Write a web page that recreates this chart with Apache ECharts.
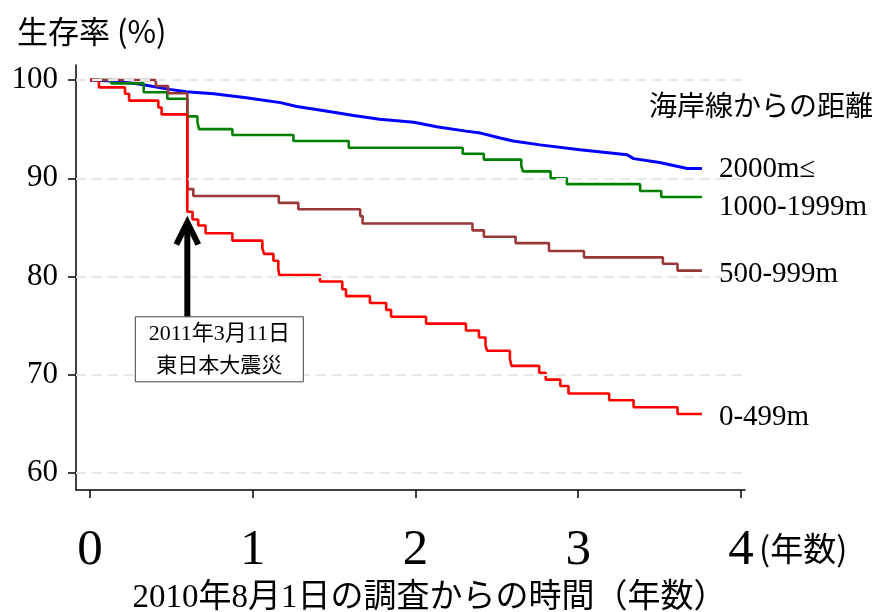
<!DOCTYPE html>
<html><head><meta charset="utf-8">
<script src="https://cdn.jsdelivr.net/npm/echarts@6/dist/echarts.min.js"></script>
<style>html,body{margin:0;padding:0;background:#fff}#c{width:880px;height:612px}</style>
</head><body><div id="c"></div>
<script>
// ---- data ----
const xTicks = [0, 1, 2, 3, 4];
const yTicks = [60, 70, 80, 90, 100];
const seriesNames = ['2000m≤', '1000-1999m', '500-999m', '0-499m'];

const t2000 = [0, 0.14, 0.3, 0.49, 0.59, 0.76, 0.96, 1.17, 1.27, 1.43, 1.62, 1.78, 1.99, 2.13, 2.31, 2.40, 2.52, 2.60, 2.765, 3.01, 3.30, 3.34, 3.50, 3.67, 3.76];
const s2000 = [100, 99.9, 99.6, 99.05, 98.8, 98.6, 98.2, 97.7, 97.3, 96.9, 96.4, 96.0, 95.7, 95.25, 94.8, 94.6, 94.1, 93.8, 93.4, 92.9, 92.4, 92.0, 91.6, 91.0, 91.0];

const t1000 = [0, 0.13, 0.33, 0.475, 0.598, 0.66, 0.67, 0.875, 1.25, 1.59, 2.29, 2.42, 2.65, 2.66, 2.83, 2.93, 3.38, 3.51, 3.76];
const s1000 = [100, 99.66, 98.75, 98.1, 96.3, 95.7, 95.0, 94.4, 93.8, 93.1, 92.5, 91.9, 91.25, 90.7, 90.0, 89.4, 88.7, 88.1, 88.1];

const t500 = [0, 0.405, 0.48, 0.598, 0.635, 1.16, 1.28, 1.66, 1.675, 2.35, 2.42, 2.615, 2.82, 3.035, 3.52, 3.61, 3.76];
const s500 = [100, 99.4, 98.65, 88.9, 88.2, 87.5, 86.85, 86.15, 85.4, 84.7, 84.05, 83.4, 82.6, 81.95, 81.3, 80.6, 80.6];

const t0 = [0, 0.055, 0.215, 0.24, 0.42, 0.44, 0.598, 0.63, 0.665, 0.71, 0.875, 1.059, 1.069, 1.127, 1.157, 1.163, 1.413, 1.55, 1.573, 1.72, 1.82, 1.85, 2.065, 2.31, 2.39, 2.43, 2.44, 2.58, 2.59, 2.76, 2.80, 2.89, 2.94, 3.19, 3.34, 3.61, 3.76];
const s0 = [100, 99.25, 98.6, 97.9, 97.2, 96.5, 86.6, 85.8, 85.2, 84.4, 83.65, 82.9, 82.3, 81.6, 80.8, 80.15, 79.5, 78.7, 78.0, 77.3, 76.6, 75.9, 75.2, 74.5, 73.8, 73.0, 72.45, 71.6, 70.9, 70.2, 69.5, 68.85, 68.1, 67.4, 66.7, 66.0, 66.0];

const quakeYear = 0.598;
const arrowFrom = 75.9, arrowTo = 85.6;
const annoLines = ['2011年3月11日', '東日本大震災'];
const yTitle = '生存率 (%)';
const xTitle = '2010年8月1日の調査からの時間（年数）';
const xUnit = '(年数)';
const legendTitle = '海岸線からの距離';

// ---- chart ----
function pairs(t, s) { return t.map((x, i) => [x, s[i]]); }
const SERIF = "'Liberation Serif','Noto Sans CJK JP',serif";
const SANS = "'Noto Sans CJK JP','Noto Sans',sans-serif";

const chart = echarts.init(document.getElementById('c'), null, { renderer: 'canvas' });

function lineSeries(name, t, s, color, width, step, labelOffsetY) {
  return {
    name, type: 'line', data: pairs(t, s), step: step ? 'end' : false,
    showSymbol: false, symbol: 'none', z: 3,
    lineStyle: { color, width },
    endLabel: {
      show: true, formatter: name, distance: 17, offset: [0, labelOffsetY],
      fontFamily: SERIF, fontSize: 29, color: '#000'
    }
  };
}

chart.setOption({
  animation: false,
  backgroundColor: '#fff',
  title: [
    { text: yTitle, left: 12, top: 11, textStyle: { fontFamily: SANS, fontSize: 31, fontWeight: 'normal', color: '#000' } },
    { text: legendTitle, left: 644, top: 86, textStyle: { fontFamily: SANS, fontSize: 28, fontWeight: 'normal', color: '#000' } }
  ],
  grid: { left: 76, top: 65, width: 669, height: 425, containLabel: false, outerBoundsMode: 'none' },
  xAxis: {
    type: 'value', min: -0.086, max: 4.0246,
    name: xTitle, nameLocation: 'middle', nameGap: 92,
    nameTextStyle: { fontFamily: SERIF, fontSize: 33, color: '#000', padding: [0, 0, 0, 38] },
    axisLine: { onZero: false, lineStyle: { color: '#000', width: 1.5 } },
    axisTick: { show: true, customValues: xTicks, length: 8, lineStyle: { color: '#000', width: 1.5 } },
    axisLabel: { customValues: xTicks, fontFamily: SERIF, fontSize: 51, color: '#000', margin: 35 },
    splitLine: { show: false }
  },
  yAxis: {
    type: 'value', min: 58.27, max: 101.53,
    axisLine: { show: true, onZero: false, lineStyle: { color: '#000', width: 1.5 } },
    axisTick: { show: true, customValues: yTicks, length: 8, lineStyle: { color: '#000', width: 1.5 } },
    axisLabel: { customValues: yTicks, fontFamily: SERIF, fontSize: 31, color: '#000', margin: 18 },
    splitLine: { show: false }
  },
  series: [
    {
      name: 'grid', type: 'line', data: [[0, 100]], symbol: 'none', z: 1,
      lineStyle: { opacity: 0 }, silent: true,
      markLine: {
        silent: true, symbol: ['none', 'none'], label: { show: false },
        lineStyle: { type: [10, 6], color: '#e2eaee', width: 2 },
        emphasis: { disabled: true },
        data: yTicks.map(v => ({ yAxis: v }))
      }
    },
    lineSeries(seriesNames[0], t2000, s2000, '#0000ff', 3, false, 1),
    lineSeries(seriesNames[1], t1000, s1000, '#008000', 2.6, true, 10),
    lineSeries(seriesNames[2], t500, s500, '#993838', 2.6, true, 4),
    lineSeries(seriesNames[3], t0, s0, '#ff0000', 2.6, true, 3)
  ]
});

// annotation (arrow + box) and unit label, placed through the chart's own scales
const pA = chart.convertToPixel({ gridIndex: 0 }, [quakeYear, arrowFrom]);
const pB = chart.convertToPixel({ gridIndex: 0 }, [quakeYear, arrowTo]);
const p4 = chart.convertToPixel({ gridIndex: 0 }, [4, 58.27]);
const ax = pA[0];
const boxLeft = ax - 52, boxTop = pA[1], boxW = 168, boxH = 65;
chart.setOption({
  graphic: [
    { type: 'line', shape: { x1: ax, y1: pA[1], x2: ax, y2: pB[1] + 3 }, style: { stroke: '#000', lineWidth: 6 }, z: 10 },
    { type: 'polyline', shape: { points: [[ax - 11, pB[1] + 23], [ax, pB[1] + 1], [ax + 11, pB[1] + 23]] }, style: { stroke: '#000', lineWidth: 6, fill: null, lineJoin: 'miter' }, z: 10 },
    { type: 'rect', shape: { x: boxLeft, y: boxTop, width: boxW, height: boxH }, style: { fill: '#fff', stroke: '#444', lineWidth: 1 }, z: 11 },
    { type: 'text', x: boxLeft + boxW / 2, y: boxTop + 17, style: { text: annoLines[0], font: "22px " + SERIF, fill: '#000', align: 'center', verticalAlign: 'middle' }, z: 12 },
    { type: 'text', x: boxLeft + boxW / 2, y: boxTop + 47, style: { text: annoLines[1], font: "21px " + SANS, fill: '#000', align: 'center', verticalAlign: 'middle' }, z: 12 },
    { type: 'text', x: p4[0] + 18, y: p4[1] + 58, style: { text: xUnit, font: "33px " + SANS, fill: '#000', align: 'left', verticalAlign: 'middle' }, z: 12 }
  ]
});
</script>
</body></html>
